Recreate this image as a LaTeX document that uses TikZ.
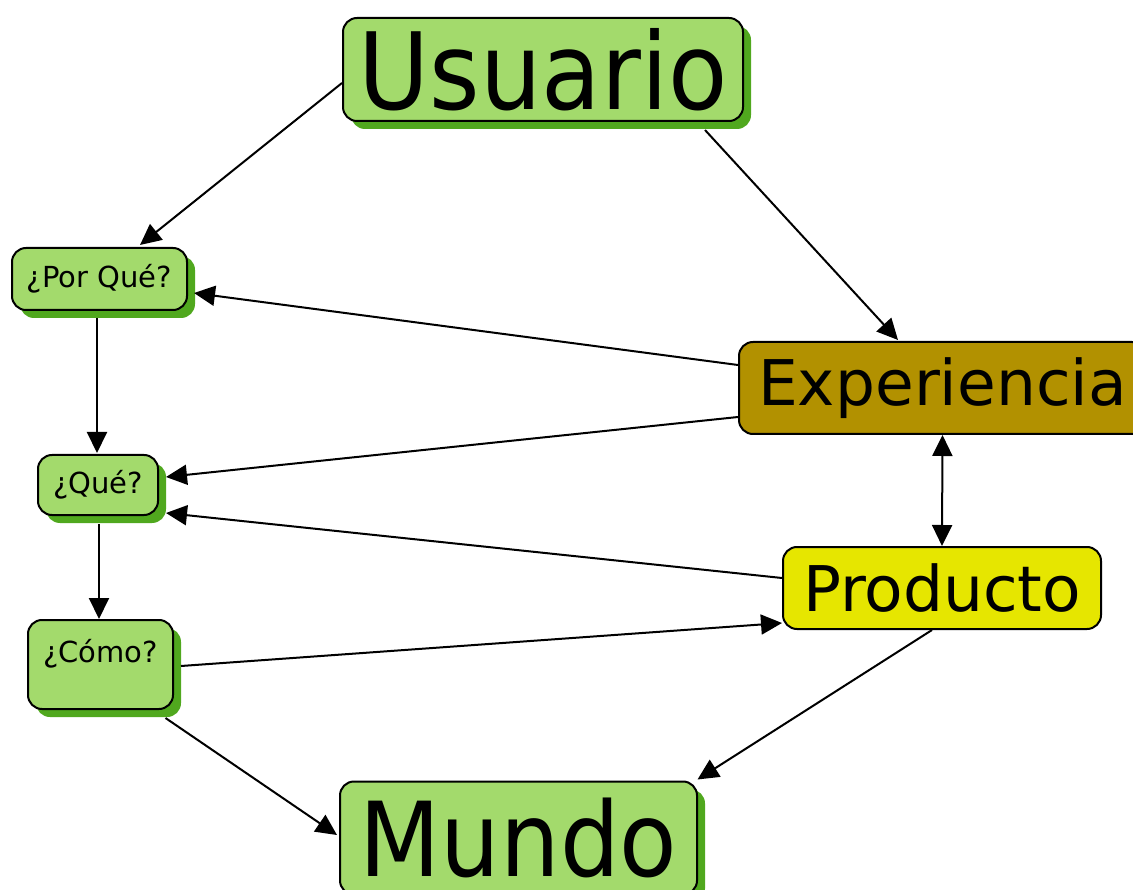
\documentclass[tikz,border=0pt]{standalone}
\usepackage{fontspec}
\setmainfont{DejaVu Sans}
\usetikzlibrary{shadows,calc,arrows.meta}

\definecolor{leaf}{RGB}{163,218,108}
\definecolor{leafshade}{RGB}{80,168,30}
\definecolor{ochre}{RGB}{178,145,0}
\definecolor{lemon}{RGB}{230,230,0}

\tikzset{
  box/.style={draw=black, line width=2pt, rounded corners=14pt, inner sep=0pt, align=center},
  greenbox/.style={box, fill=leaf,
    general shadow={fill=leafshade, shadow xshift=8pt, shadow yshift=-8pt}},
  bigtext/.style={font=\fontsize{97}{100}\selectfont},
  worldtext/.style={font=\fontsize{94}{98}\selectfont},
  midtext/.style={font=\fontsize{63}{67}\selectfont},
  smalltext/.style={font=\fontsize{29}{33}\selectfont},
  link/.style={line width=2pt, -{Triangle[length=21pt,width=20pt]}},
  twoway/.style={line width=2pt,
    {Triangle[length=21pt,width=20pt]}-{Triangle[length=21pt,width=20pt]}},
}

\newcommand{\tall}[1]{\scalebox{1}[1.1]{#1}}

\begin{document}
\begin{tikzpicture}[x=1pt, y=-1pt]
  \clip (0,0) rectangle (1133,890);

  % concept boxes
  \node[greenbox, bigtext, minimum width=400pt, minimum height=103pt] (usu) at (543,69.5) {\tall{Usuario}};
  \node[greenbox, smalltext, minimum width=175pt, minimum height=62pt] (pq) at (99.5,279) {¿Por Qué?};
  \node[greenbox, smalltext, minimum width=120pt, minimum height=60pt] (que) at (98,485) {¿Qué?};
  \node[greenbox, smalltext, minimum width=145pt, minimum height=89pt,
        text height=20pt, text depth=25pt] (como) at (100.5,664.5) {¿Cómo?};
  \node[box, fill=ochre, midtext, minimum width=407pt, minimum height=92pt] (exp) at (942.5,388) {Experiencia};
  \node[box, fill=lemon, midtext, minimum width=318pt, minimum height=82pt] (pro) at (942,588) {Producto};
  \node[greenbox, worldtext, minimum width=357pt, minimum height=113pt] (mun) at (518.5,838) {\tall{Mundo}};

  % relations
  \draw[link] ($(usu.west)+(0,13.5)$) -- ($(pq.north)+(40.5,-2)$);
  \draw[link] ($(usu.south)+(162,8)$) -- ($(exp.north)+(-44.5,-1)$);
  \draw[link] ($(exp.west)+(0,-23)$) -- ($(pq.east)+(6,14)$);
  \draw[link] ($(exp.west)+(0,29)$) -- ($(que.east)+(7,-8)$);
  \draw[link] ($(pro.west)+(0,-10)$) -- ($(que.east)+(7,28)$);
  \draw[link] ($(como.east)+(7,1.5)$) -- ($(pro.west)+(0,35)$);
  \draw[link] ($(pro.south)+(-10,0)$) -- ($(mun.north)+(179,-1)$);
  \draw[link] ($(como.south)+(65,8)$) -- ($(mun.west)+(-2,-3)$);
  \draw[link] ($(pq.south)+(-2.5,7)$) -- ($(que.north)+(-1,-1)$);
  \draw[link] ($(que.south)+(1,8)$) -- ($(como.north)+(-1.5,0)$);
  \draw[twoway] (exp.south) -- (pro.north);
\end{tikzpicture}
\end{document}
